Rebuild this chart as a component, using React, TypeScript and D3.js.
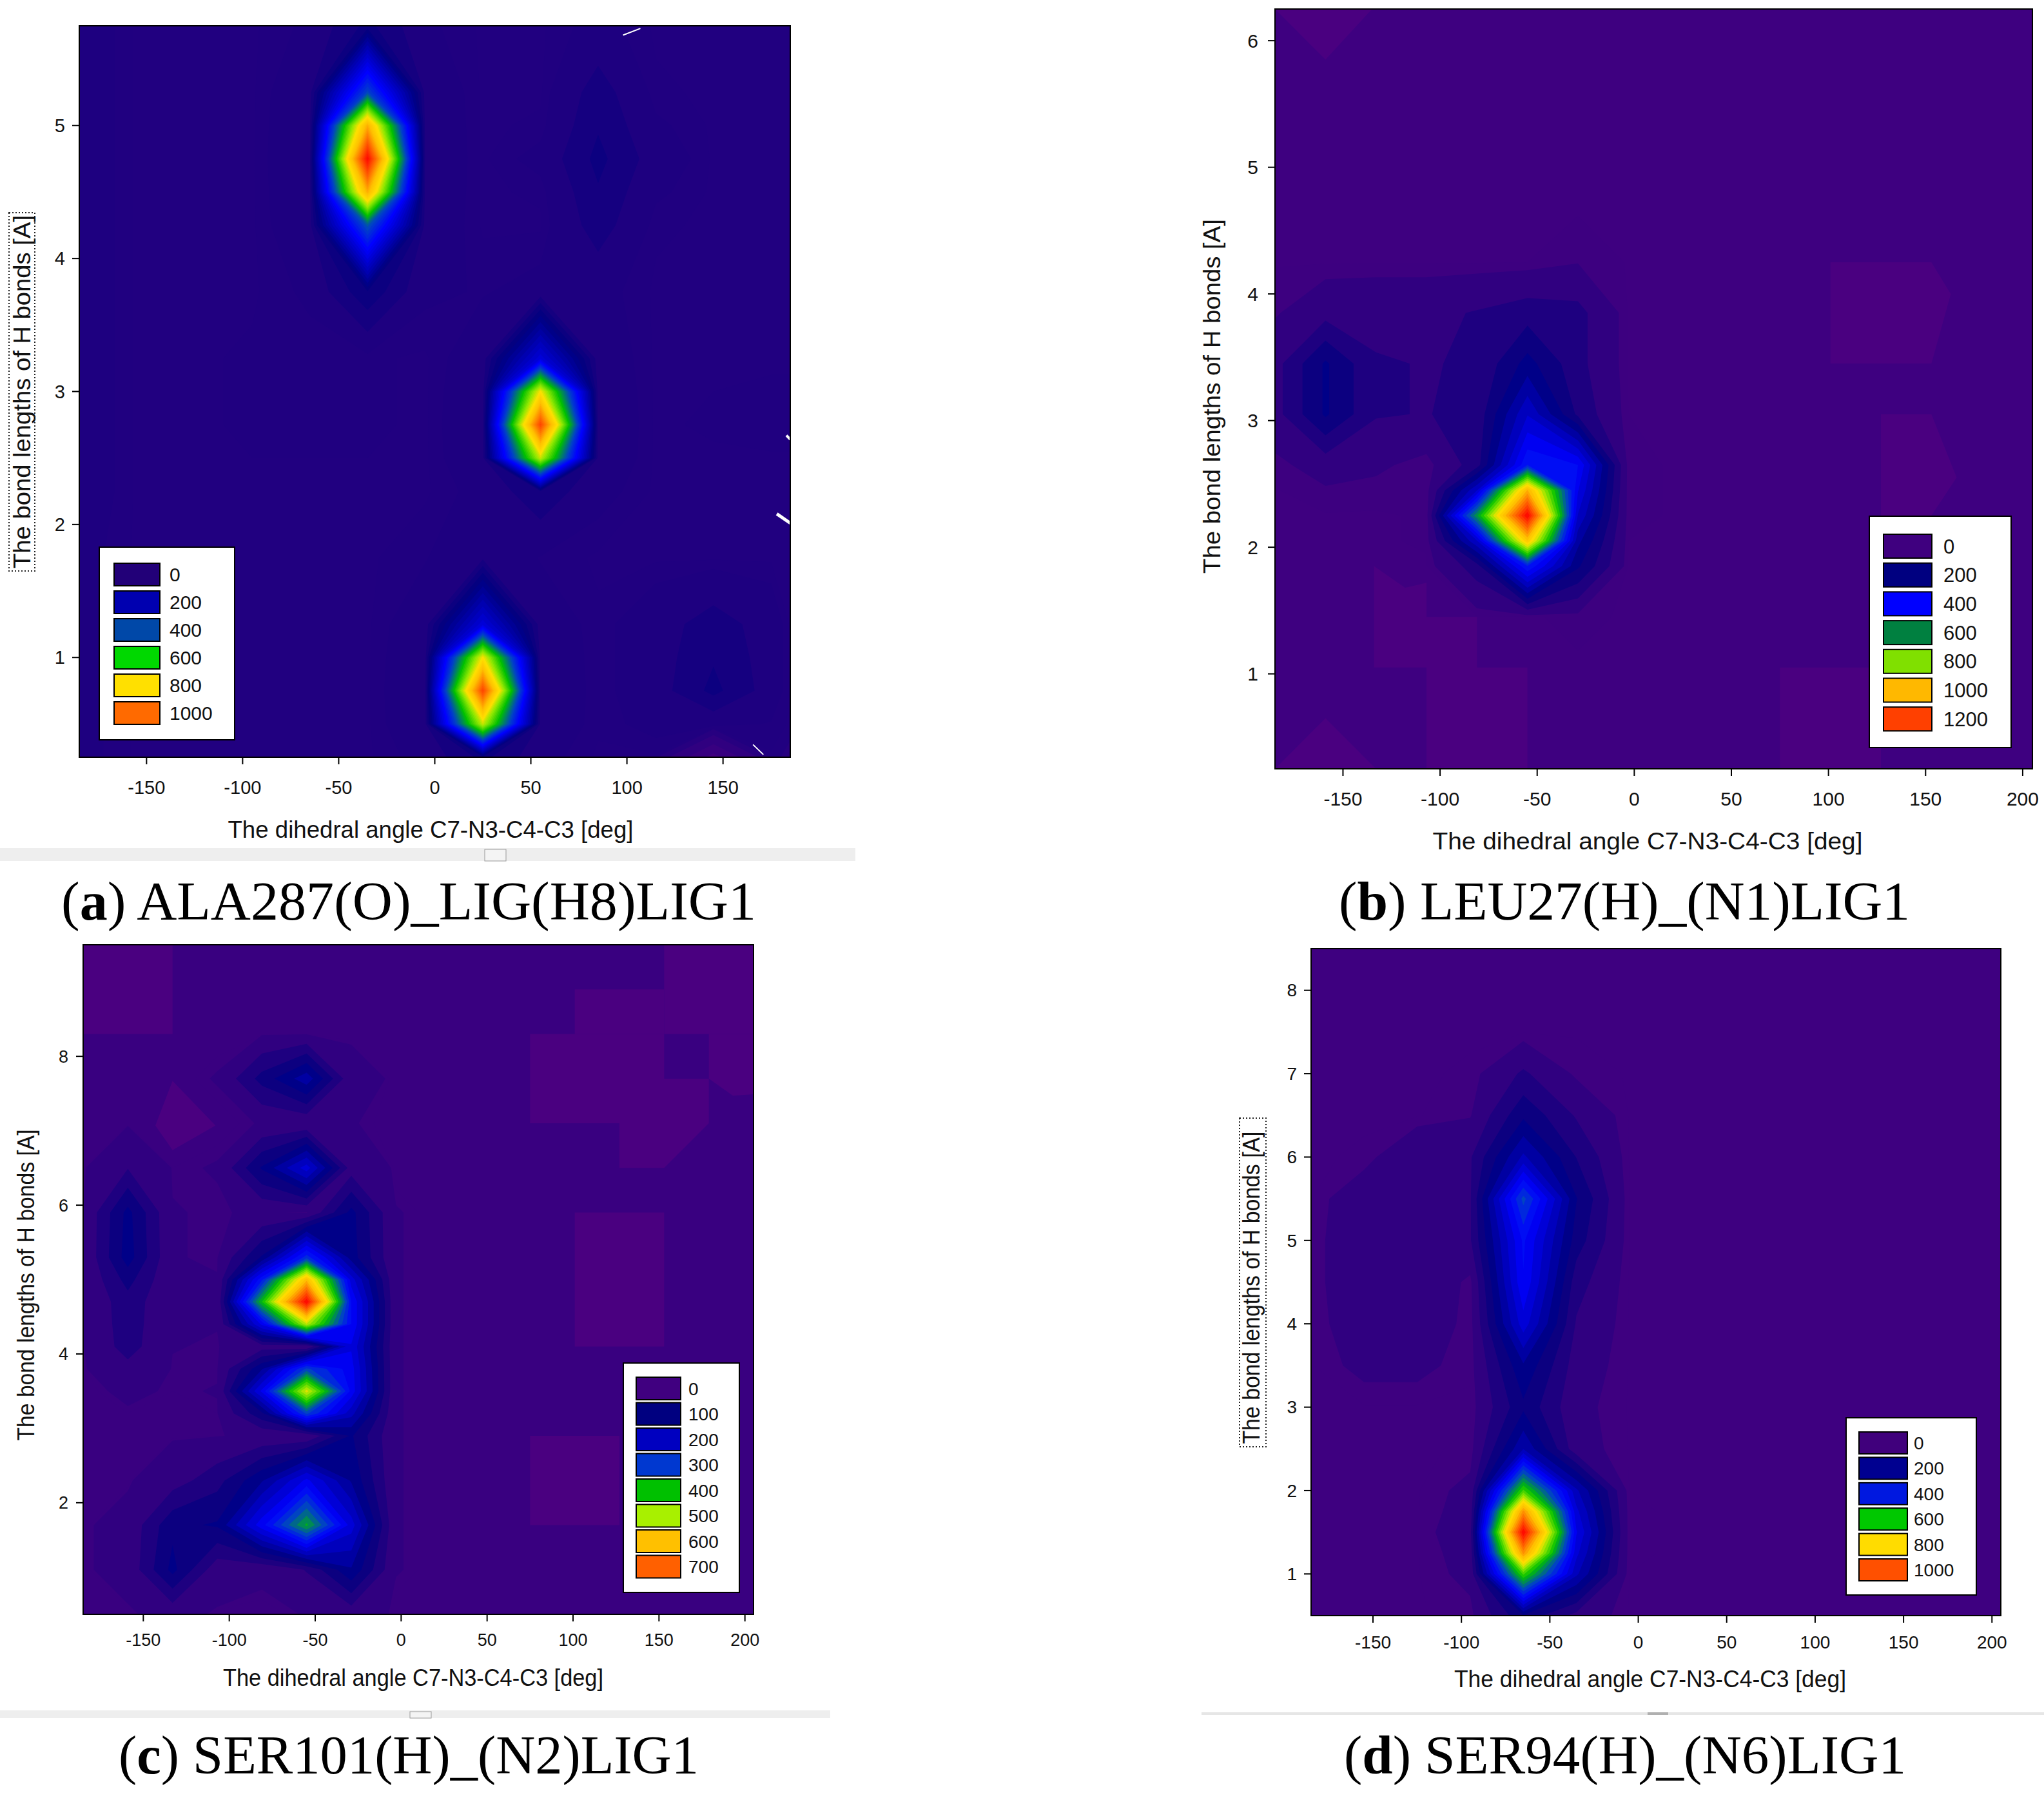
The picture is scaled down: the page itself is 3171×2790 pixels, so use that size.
import React from "react";
import * as d3 from "d3";

const SANS = "'Liberation Sans', Arial, sans-serif";
const SERIF = "'Liberation Serif', serif";

// colour ramp shared by all four maps (fraction of the map's top value)
const rampStops = [0, 0.14, 0.3, 0.38, 0.5, 0.6, 0.67, 0.75, 0.875, 1];
const rampColors = ["#4a0080", "#000080", "#0000ff", "#0040c8", "#00c000", "#90e800", "#ffe000", "#ffc000", "#ff6000", "#ff0000"];

const xTicksShort = [-150, -100, -50, 0, 50, 100, 150];
const xTicksLong = [-150, -100, -50, 0, 50, 100, 150, 200];

// --- panel a
const colsA = [-185, -155, -125, -95, -65, -35, -5, 25, 55, 85, 115, 145, 175, 185];
const rowsA = [5.75, 5.25, 5, 4.75, 4.5, 4.25, 3.75, 3.25, 3, 2.75, 2.5, 2.25, 1.75, 1.25, 1, 0.75, 0.5, 0.25];
const gridA = [
  [105, 90, 90, 90, 98, 140, 98, 90, 90, 100, 90, 90, 90, 90],
  [105, 90, 90, 90, 108, 450, 108, 90, 90, 125, 92, 90, 90, 90],
  [105, 90, 90, 90, 110, 900, 110, 90, 92, 132, 98, 90, 90, 90],
  [105, 90, 90, 90, 112, 1150, 112, 90, 100, 140, 105, 90, 90, 90],
  [105, 90, 90, 90, 110, 900, 110, 90, 92, 132, 98, 90, 90, 90],
  [105, 90, 90, 90, 108, 470, 108, 90, 90, 125, 92, 90, 90, 90],
  [105, 90, 90, 90, 98, 150, 98, 95, 100, 100, 90, 90, 90, 90],
  [105, 90, 90, 92, 92, 92, 90, 105, 300, 105, 90, 90, 90, 90],
  [105, 90, 90, 92, 92, 92, 90, 108, 780, 108, 90, 91, 92, 92],
  [105, 90, 90, 92, 92, 92, 90, 110, 1060, 110, 90, 92, 95, 95],
  [105, 90, 90, 91, 91, 91, 90, 108, 740, 108, 90, 90, 90, 90],
  [105, 90, 90, 90, 90, 90, 90, 100, 130, 100, 90, 90, 90, 90],
  [100, 90, 90, 90, 90, 90, 95, 110, 95, 90, 90, 90, 90, 90],
  [100, 90, 90, 90, 90, 90, 105, 300, 105, 92, 105, 125, 105, 90],
  [100, 90, 90, 90, 90, 90, 108, 780, 108, 92, 105, 132, 105, 90],
  [100, 90, 90, 90, 90, 90, 110, 1060, 110, 92, 105, 140, 105, 90],
  [100, 90, 90, 90, 90, 90, 108, 740, 108, 92, 100, 100, 95, 90],
  [100, 90, 90, 90, 90, 90, 100, 140, 100, 90, 90, 30, 90, 88],
];
const legendLabelsA = ["0", "200", "400", "600", "800", "1000"];
const legendColorsA = ["#220078", "#0000b0", "#0048a8", "#00d800", "#ffe000", "#ff6a00"];

// --- panel b
const colsB = [-185, -159, -133, -107, -81, -55, -29, -3, 23, 49, 75, 101, 127, 153, 179, 205];
const rowsB = [6.25, 5.85, 5.45, 5.05, 4.65, 4.25, 3.85, 3.45, 3.05, 2.65, 2.45, 2.25, 2.05, 1.85, 1.45, 1.05, 0.65, 0.25];
const gridB = [
  [30, 30, 30, 30, 30, 30, 30, 30, 30, 30, 30, 30, 30, 30, 30, 30],
  [30, 30, 30, 30, 30, 30, 30, 30, 30, 30, 30, 30, 30, 30, 30, 30],
  [30, 30, 30, 30, 30, 30, 30, 30, 30, 30, 30, 30, 30, 30, 30, 30],
  [30, 30, 30, 30, 30, 30, 30, 30, 30, 30, 30, 30, 30, 30, 30, 30],
  [30, 30, 30, 30, 30, 30, 30, 30, 30, 30, 30, 30, 30, 30, 30, 30],
  [30, 30, 30, 30, 30, 31, 42, 30, 30, 30, 30, 30, 30, 30, 30, 30],
  [40, 70, 75, 75, 90, 110, 100, 30, 30, 30, 30, 30, 30, 30, 30, 30],
  [70, 180, 90, 85, 90, 190, 100, 30, 30, 30, 30, 30, 30, 30, 30, 30],
  [70, 180, 90, 85, 100, 300, 120, 31, 30, 30, 30, 30, 30, 30, 30, 30],
  [35, 60, 50, 32, 110, 430, 390, 33, 30, 30, 30, 30, 30, 30, 30, 30],
  [30, 40, 35, 32, 300, 1000, 350, 33, 30, 30, 30, 30, 30, 30, 30, 30],
  [30, 30, 30, 32, 600, 1300, 300, 33, 30, 30, 30, 30, 30, 30, 30, 30],
  [30, 30, 30, 32, 300, 950, 230, 31, 30, 30, 30, 30, 30, 30, 30, 30],
  [30, 30, 30, 30, 110, 430, 180, 30, 30, 30, 30, 30, 30, 30, 30, 30],
  [30, 30, 30, 30, 30, 30, 33, 30, 30, 30, 30, 30, 30, 30, 30, 30],
  [30, 30, 30, 30, 30, 30, 30, 30, 30, 30, 30, 30, 30, 30, 30, 30],
  [30, 30, 30, 30, 30, 30, 30, 30, 30, 30, 30, 30, 30, 30, 30, 30],
  [30, 30, 30, 30, 30, 30, 30, 30, 30, 30, 30, 30, 30, 30, 30, 30],
];
const legendLabelsB = ["0", "200", "400", "600", "800", "1000", "1200"];
const legendColorsB = ["#3f007f", "#000080", "#0000ff", "#008040", "#80e000", "#ffb800", "#ff4000"];
// zero-count areas, as outlines in data units
const zeroAreasB: [number, number][][] = [
  [[-185, 6.25], [-135, 6.25], [-159, 5.85]],
  [[-185, 0.25], [-159, 0.65], [-133, 0.25]],
  [[101, 4.25], [153, 4.25], [163, 4], [153, 3.45], [101, 3.45]],
  [[127, 3.05], [153, 3.05], [166, 2.55], [153, 2.25], [127, 2.25]],
  [[-134, 1.85], [-118, 1.68], [-107, 1.72], [-107, 1.45], [-81, 1.45], [-81, 1.05], [-55, 1.05], [-55, 0.25], [-107, 0.25], [-107, 1.05], [-134, 1.05]],
  [[75, 1.05], [127, 1.05], [127, 0.25], [75, 0.25]],
];

// --- panel c
const colsC = [-185, -159, -133, -107, -81, -55, -29, -3, 23, 49, 75, 101, 127, 153, 179, 205];
const rowsC = [9.5, 8.9, 8.3, 7.7, 7.1, 6.5, 5.9, 5.3, 5, 4.7, 4.4, 4.1, 3.8, 3.5, 3.2, 2.9, 2.3, 1.7, 1.1, 0.5];
const gridC = [
  [25, 25, 25, 25, 25, 25, 25, 25, 25, 25, 25, 25, 25, 25, 25, 25],
  [25, 25, 25, 25, 25, 25, 25, 25, 25, 25, 25, 25, 25, 25, 25, 25],
  [25, 25, 25, 25, 25, 26, 25, 25, 25, 25, 25, 25, 25, 25, 25, 25],
  [25, 25, 25, 27, 90, 150, 32, 25, 25, 25, 25, 25, 25, 25, 25, 25],
  [25, 25, 25, 25, 27, 28, 27, 25, 25, 25, 25, 25, 25, 25, 25, 25],
  [25, 52, 26, 27, 110, 200, 40, 25, 25, 25, 25, 25, 25, 25, 25, 25],
  [26, 115, 27, 26, 28, 25, 115, 27, 25, 25, 25, 25, 25, 25, 25, 25],
  [26, 120, 27, 26, 110, 280, 120, 27, 25, 25, 25, 25, 25, 25, 25, 25],
  [26, 90, 27, 27, 260, 600, 200, 27, 25, 25, 25, 25, 25, 25, 25, 25],
  [26, 70, 27, 27, 400, 800, 240, 27, 25, 25, 25, 25, 25, 25, 25, 25],
  [26, 68, 27, 27, 220, 500, 240, 27, 25, 25, 25, 25, 25, 25, 25, 25],
  [26, 65, 27, 26, 40, 26, 210, 27, 25, 25, 25, 25, 25, 25, 25, 25],
  [25, 45, 26, 26, 130, 300, 225, 27, 25, 25, 25, 25, 25, 25, 25, 25],
  [25, 28, 26, 27, 220, 520, 230, 27, 25, 25, 25, 25, 25, 25, 25, 25],
  [25, 26, 25, 26, 100, 300, 170, 27, 25, 25, 25, 25, 25, 25, 25, 25],
  [25, 25, 25, 26, 30, 28, 110, 27, 25, 25, 25, 25, 25, 25, 25, 25],
  [25, 25, 40, 70, 130, 220, 130, 27, 25, 25, 25, 25, 25, 25, 25, 25],
  [25, 32, 100, 110, 230, 380, 200, 27, 25, 25, 25, 25, 25, 25, 25, 25],
  [25, 32, 115, 35, 28, 55, 130, 27, 25, 25, 25, 25, 25, 25, 25, 25],
  [25, 25, 32, 25, 25, 27, 35, 25, 25, 25, 25, 25, 25, 25, 25, 25],
];
const legendLabelsC = ["0", "100", "200", "300", "400", "500", "600", "700"];
const legendColorsC = ["#400080", "#000080", "#0000c0", "#0038d0", "#00c000", "#a8f000", "#ffc000", "#ff6000"];
const zeroAreasC: [number, number][][] = [
  [[-185, 9.5], [-133, 9.5], [-133, 8.3], [-185, 8.3]],
  [[153, 9.5], [205, 9.5], [205, 8.3], [153, 8.3]],
  [[101, 8.9], [153, 8.9], [153, 8.3], [101, 8.3]],
  [[75, 8.3], [153, 8.3], [153, 7.7], [179, 7.7], [179, 7.1], [153, 6.5], [127, 6.5], [127, 7.1], [75, 7.1]],
  [[179, 8.3], [205, 8.3], [205, 7.49], [193, 7.47], [179, 7.7]],
  [[101, 5.9], [153, 5.9], [153, 4.1], [101, 4.1]],
  [[75, 2.9], [127, 2.9], [127, 1.7], [75, 1.7]],
  [[-143, 7.07], [-133, 7.67], [-108, 7.07], [-133, 6.74]],
];

// --- panel d
const colsD = [-185, -155, -125, -95, -65, -35, -5, 25, 55, 85, 115, 145, 175, 205];
const rowsD = [8.5, 8, 7.5, 7, 6.5, 6, 5.5, 5, 4.5, 4, 3.5, 3, 2.5, 2, 1.75, 1.5, 1.25, 1, 0.5];
const gridD = [
  [25, 25, 25, 25, 25, 25, 25, 25, 25, 25, 25, 25, 25, 25],
  [25, 25, 25, 25, 25, 25, 25, 25, 25, 25, 25, 25, 25, 25],
  [25, 25, 25, 25, 25, 25, 25, 25, 25, 25, 25, 25, 25, 25],
  [25, 25, 25, 27, 80, 32, 25, 25, 25, 25, 25, 25, 25, 25],
  [25, 25, 25, 35, 140, 70, 25, 25, 25, 25, 25, 25, 25, 25],
  [25, 27, 70, 70, 230, 110, 25, 25, 25, 25, 25, 25, 25, 25],
  [25, 60, 70, 70, 420, 150, 26, 25, 25, 25, 25, 25, 25, 25],
  [25, 70, 70, 70, 340, 130, 26, 25, 25, 25, 25, 25, 25, 25],
  [25, 70, 70, 30, 330, 90, 25, 25, 25, 25, 25, 25, 25, 25],
  [25, 60, 65, 27, 280, 70, 25, 25, 25, 25, 25, 25, 25, 25],
  [25, 45, 45, 27, 180, 55, 25, 25, 25, 25, 25, 25, 25, 25],
  [25, 25, 25, 25, 140, 45, 25, 25, 25, 25, 25, 25, 25, 25],
  [25, 25, 25, 27, 220, 50, 25, 25, 25, 25, 25, 25, 25, 25],
  [25, 25, 25, 45, 600, 230, 26, 25, 25, 25, 25, 25, 25, 25],
  [25, 25, 25, 50, 900, 270, 27, 25, 25, 25, 25, 25, 25, 25],
  [25, 25, 25, 60, 1110, 300, 27, 25, 25, 25, 25, 25, 25, 25],
  [25, 25, 25, 50, 900, 270, 27, 25, 25, 25, 25, 25, 25, 25],
  [25, 25, 25, 45, 600, 230, 26, 25, 25, 25, 25, 25, 25, 25],
  [25, 25, 25, 30, 140, 60, 25, 25, 25, 25, 25, 25, 25, 25],
];
const legendLabelsD = ["0", "200", "400", "600", "800", "1000"];
const legendColorsD = ["#40007c", "#000090", "#0018e0", "#00c800", "#ffdc00", "#ff5000"];

type Box = { l: number; r: number; t: number; b: number };
type Leg = { x: number; y: number; w: number; h: number; sx: number; sy: number; sw: number; sh: number; pitch: number; tx: number; fs: number };
type P = {
  key: string; cols: number[]; rows: number[]; grid: number[][]; vmax: number; base: number; levels: number; smooth: boolean;
  zeroAreas: [number, number][][];
  box: Box; xTicks: number[]; yTicks: number[]; legendLabels: string[]; legendColors: string[]; leg: Leg;
  tickFs: number; xTickY: number; yTickX: number;
  xTitleX: number; xTitleY: number; xTitleLen: number;
  yTitleX: number; yTitleY: number; yTitleLen: number; dotted?: { x: number; y: number; w: number; h: number };
  capLetter: string; capRest: string; capX: number; capY: number; capLen: number;
};

const TITLE_X = "The dihedral angle C7-N3-C4-C3 [deg]";
const TITLE_Y = "The bond lengths of H bonds [A]";

const panels: P[] = [
  { key: "a", cols: colsA, rows: rowsA, grid: gridA, vmax: 1150, base: 90, levels: 60, smooth: true, zeroAreas: [],
    box: { l: 123, r: 1226, t: 40, b: 1175 }, xTicks: xTicksShort, yTicks: [1, 2, 3, 4, 5],
    legendLabels: legendLabelsA, legendColors: legendColorsA,
    leg: { x: 154, y: 849, w: 210, h: 299, sx: 177, sy: 874, sw: 71, sh: 35, pitch: 43, tx: 263, fs: 30 },
    tickFs: 29, xTickY: 1232, yTickX: 101,
    xTitleX: 668, xTitleY: 1300, xTitleLen: 629,
    yTitleX: 47, yTitleY: 608, yTitleLen: 548, dotted: { x: 14, y: 330, w: 40, h: 556 },
    capLetter: "a", capRest: " ALA287(O)_LIG(H8)LIG1", capX: 95, capY: 1427, capLen: 1078 },
  { key: "b", cols: colsB, rows: rowsB, grid: gridB, vmax: 1300, base: 30, levels: 30, smooth: false, zeroAreas: zeroAreasB,
    box: { l: 1978, r: 3153, t: 14, b: 1193 }, xTicks: xTicksLong, yTicks: [1, 2, 3, 4, 5, 6],
    legendLabels: legendLabelsB, legendColors: legendColorsB,
    leg: { x: 2900, y: 801, w: 220, h: 359, sx: 2922, sy: 829, sw: 75, sh: 37, pitch: 44.7, tx: 3015, fs: 31 },
    tickFs: 30, xTickY: 1250, yTickX: 1952,
    xTitleX: 2556, xTitleY: 1318, xTitleLen: 667,
    yTitleX: 1893, yTitleY: 615, yTitleLen: 550,
    capLetter: "b", capRest: " LEU27(H)_(N1)LIG1", capX: 2077, capY: 1427, capLen: 886 },
  { key: "c", cols: colsC, rows: rowsC, grid: gridC, vmax: 800, base: 25, levels: 30, smooth: false, zeroAreas: zeroAreasC,
    box: { l: 129, r: 1169, t: 1466, b: 2505 }, xTicks: xTicksLong, yTicks: [2, 4, 6, 8],
    legendLabels: legendLabelsC, legendColors: legendColorsC,
    leg: { x: 967, y: 2115, w: 180, h: 356, sx: 987, sy: 2137, sw: 69, sh: 35, pitch: 39.5, tx: 1068, fs: 28 },
    tickFs: 27, xTickY: 2554, yTickX: 106,
    xTitleX: 641, xTitleY: 2616, xTitleLen: 590,
    yTitleX: 53, yTitleY: 1994, yTitleLen: 483,
    capLetter: "c", capRest: " SER101(H)_(N2)LIG1", capX: 184, capY: 2752, capLen: 900 },
  { key: "d", cols: colsD, rows: rowsD, grid: gridD, vmax: 1110, base: 25, levels: 30, smooth: false, zeroAreas: [],
    box: { l: 2034, r: 3104, t: 1472, b: 2507 }, xTicks: xTicksLong, yTicks: [1, 2, 3, 4, 5, 6, 7, 8],
    legendLabels: legendLabelsD, legendColors: legendColorsD,
    leg: { x: 2864, y: 2200, w: 202, h: 275, sx: 2884, sy: 2222, sw: 75, sh: 34, pitch: 39.4, tx: 2969, fs: 28 },
    tickFs: 28, xTickY: 2558, yTickX: 2012,
    xTitleX: 2560, xTitleY: 2618, xTitleLen: 608,
    yTitleX: 1954, yTitleY: 1998, yTitleLen: 485, dotted: { x: 1923, y: 1735, w: 41, h: 510 },
    capLetter: "d", capRest: " SER94(H)_(N6)LIG1", capX: 2085, capY: 2752, capLen: 872 },
];

// light toolbar strips left in the screenshots: [x, y, w, h, fill, stroke]
const strips: [number, number, number, number, string, string][] = [
  [0, 1316, 1327, 20, "#eeeeee", "none"],
  [0, 2654, 1288, 12, "#eeeeee", "none"],
  [1864, 2657, 1307, 4, "#e6e6e6", "none"],
  [752, 1318, 33, 18, "#f4f4f4", "#999999"],
  [636, 2656, 33, 10, "#f4f4f4", "#999999"],
  [2556, 2657, 32, 4, "#b0b0b0", "none"],
];

// thin white scratches on panel a, in data units: [x1, y1, x2, y2, width]
const scratches: [number, number, number, number, number][] = [
  [98, 5.68, 107, 5.73, 2],
  [183, 2.67, 185, 2.64, 4],
  [178, 2.08, 185, 2.01, 5],
  [165.6, 0.345, 171, 0.27, 2],
];

function Panel({ p }: { p: P }) {
  const { box } = p;
  const x = d3.scaleLinear().domain([p.cols[0], p.cols[p.cols.length - 1]]).range([box.l, box.r]);
  const y = d3.scaleLinear().domain([p.rows[p.rows.length - 1], p.rows[0]]).range([box.b, box.t]);
  const nx = p.cols.length, ny = p.rows.length;
  const ramp = d3.scaleLinear<string>().domain(rampStops).range(rampColors).clamp(true);
  const color = (v: number) => ramp(v / p.vmax);
  const step = p.vmax / p.levels;
  const regular = d3.range(step, p.vmax, step);
  const thresholds = p.smooth
    ? Array.from(new Set([...regular, p.base - 1, p.base + 1])).sort((a, b) => a - b)
    : [p.base + 1, ...regular.filter((t) => t > p.base + 1)];
  const cont = d3.contours().size([nx, ny]).thresholds(thresholds)(d3.merge<number>(p.grid));
  const bandColor = (v: number) => (p.smooth || v === p.base + 1 ? color(v) : color(v + step / 2));
  // contour grid coordinates -> data values (values sit at i + 0.5)
  const edge = (a: number[]) => [a[0], ...a, a[a.length - 1]];
  const idx = (n: number) => [0, ...d3.range(n).map((i) => i + 0.5), n];
  const gx = d3.scaleLinear().domain(idx(nx)).range(edge(p.cols));
  const gy = d3.scaleLinear().domain(idx(ny)).range(edge(p.rows));
  const toPath = (m: d3.ContourMultiPolygon) =>
    m.coordinates.map((poly) => poly.map((ring) => "M" + ring.map(([a, b]) => `${x(gx(a)).toFixed(1)},${y(gy(b)).toFixed(1)}`).join("L") + "Z").join("")).join("");
  const Lg = p.leg;
  return (
    <g>
      <rect x={box.l} y={box.t} width={box.r - box.l} height={box.b - box.t} fill={p.smooth ? color(0) : color(p.base)} />
      {p.zeroAreas.map((a, i) => (
        <path key={i} d={"M" + a.map(([u, v]) => `${x(u)},${y(v)}`).join("L") + "Z"} fill={color(0)} />
      ))}
      {cont.map((m, i) => (
        <path key={i} d={toPath(m)} fill={bandColor(m.value)} />
      ))}
      {p.key === "a" && scratches.map((s, i) => (
        <line key={i} x1={x(s[0])} y1={y(s[1])} x2={x(s[2])} y2={y(s[3])} stroke="#fff" strokeWidth={s[4]} />
      ))}
      <rect x={box.l} y={box.t} width={box.r - box.l} height={box.b - box.t} fill="none" stroke="#000" strokeWidth={2} />
      {p.xTicks.map((t) => (
        <g key={t}>
          <line x1={x(t)} x2={x(t)} y1={box.b} y2={box.b + 11} stroke="#000" strokeWidth={2} />
          <text x={x(t)} y={p.xTickY} textAnchor="middle" fontFamily={SANS} fontSize={p.tickFs} fill="#111">{t}</text>
        </g>
      ))}
      {p.yTicks.map((t) => (
        <g key={t}>
          <line x1={box.l - 11} x2={box.l} y1={y(t)} y2={y(t)} stroke="#000" strokeWidth={2} />
          <text x={p.yTickX} y={y(t) + p.tickFs * 0.35} textAnchor="end" fontFamily={SANS} fontSize={p.tickFs} fill="#111">{t}</text>
        </g>
      ))}
      <text x={p.xTitleX} y={p.xTitleY} textAnchor="middle" fontFamily={SANS} fontSize={36} fill="#111"
        textLength={p.xTitleLen} lengthAdjust="spacingAndGlyphs">{TITLE_X}</text>
      <text transform={`translate(${p.yTitleX},${p.yTitleY}) rotate(-90)`} textAnchor="middle" fontFamily={SANS} fontSize={36} fill="#111"
        textLength={p.yTitleLen} lengthAdjust="spacingAndGlyphs">{TITLE_Y}</text>
      {p.dotted && (
        <rect x={p.dotted.x} y={p.dotted.y} width={p.dotted.w} height={p.dotted.h} fill="none" stroke="#222" strokeWidth={2} strokeDasharray="2 3" />
      )}
      <rect x={Lg.x} y={Lg.y} width={Lg.w} height={Lg.h} fill="#fff" stroke="#000" strokeWidth={2} />
      {p.legendLabels.map((lab, i) => (
        <g key={lab}>
          <rect x={Lg.sx} y={Lg.sy + i * Lg.pitch} width={Lg.sw} height={Lg.sh} fill={p.legendColors[i]} stroke="#000" strokeWidth={2} />
          <text x={Lg.tx} y={Lg.sy + i * Lg.pitch + Lg.sh / 2 + Lg.fs * 0.36} fontFamily={SANS} fontSize={Lg.fs} fill="#111">{lab}</text>
        </g>
      ))}
      <text x={p.capX} y={p.capY} fontFamily={SERIF} fontSize={84} fill="#000" textLength={p.capLen} lengthAdjust="spacingAndGlyphs">
        (<tspan fontWeight="bold">{p.capLetter}</tspan>){p.capRest}
      </text>
    </g>
  );
}

export default function App() {
  return (
    <svg width={3171} height={2790} viewBox="0 0 3171 2790" style={{ position: "absolute", left: 0, top: 0, background: "#fff", display: "block" }}>
      {strips.map((s, i) => (
        <rect key={i} x={s[0]} y={s[1]} width={s[2]} height={s[3]} fill={s[4]} stroke={s[5]} />
      ))}
      {panels.map((p) => (
        <Panel key={p.key} p={p} />
      ))}
    </svg>
  );
}
